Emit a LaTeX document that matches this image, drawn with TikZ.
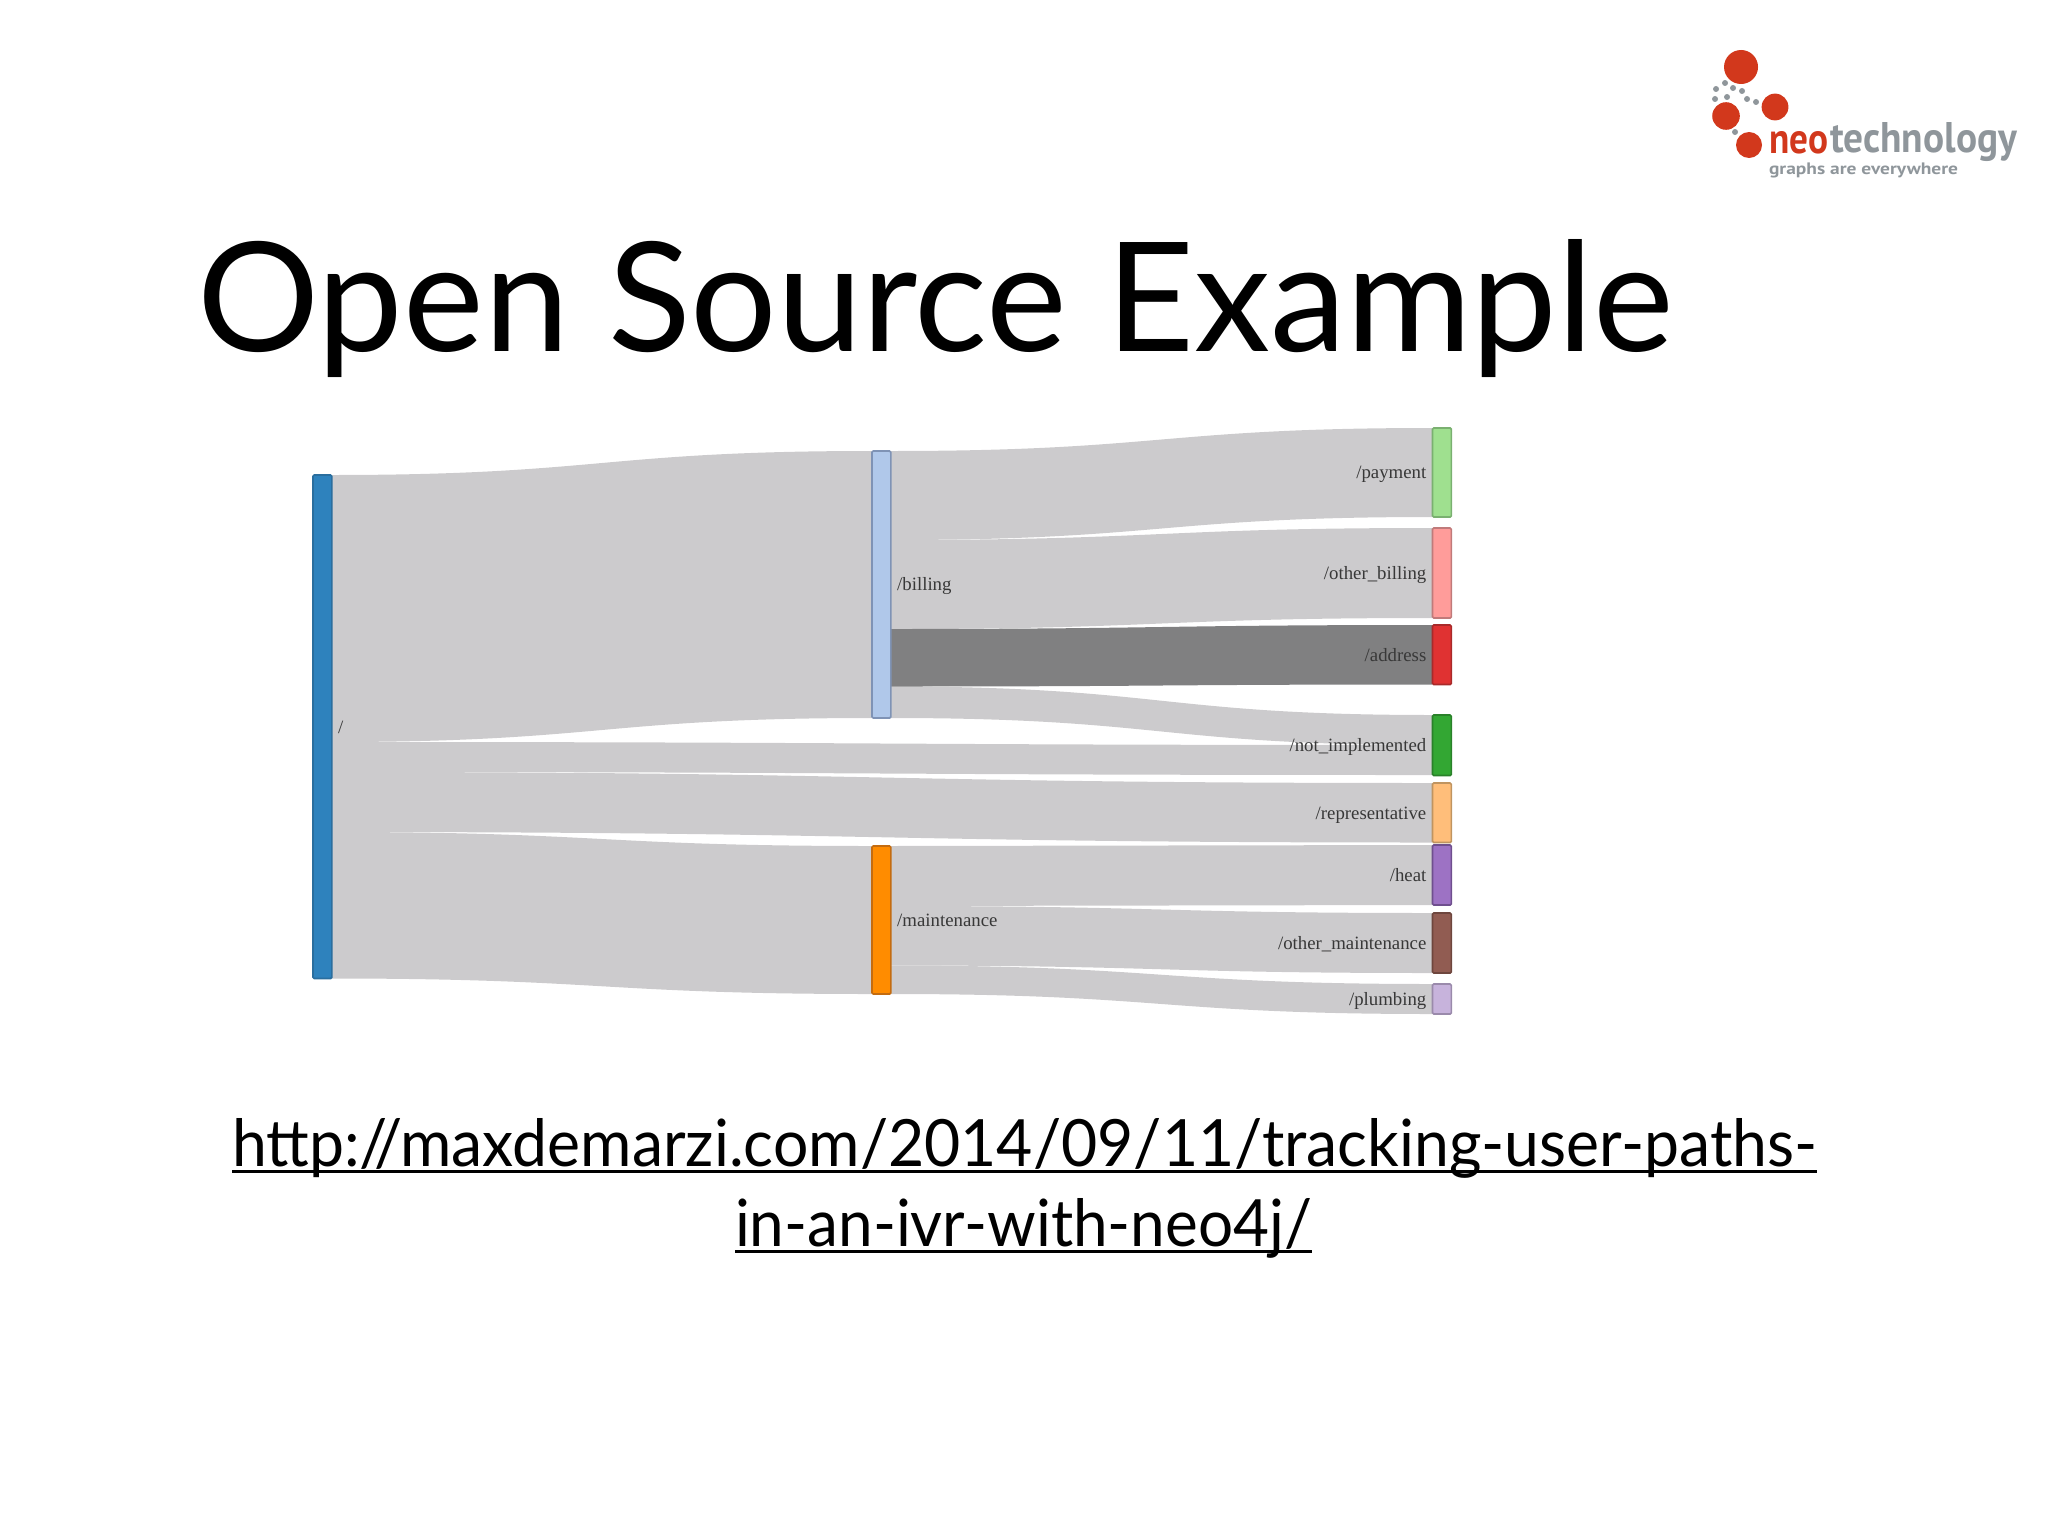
\documentclass[tikz,border=0pt]{standalone}
\usepackage{graphicx}
\usepackage{fontspec}
\setmainfont{Lato}
\newfontfamily\labelfont{Liberation Serif}
\newfontfamily\logofont{PT Sans}
\usetikzlibrary{calc}
\pgfdeclarelayer{links}
\pgfsetlayers{links,main}
\definecolor{linkgrey}{HTML}{CCCBCD}
\definecolor{linkdark}{HTML}{808081}
\definecolor{logored}{HTML}{D2381C}
\definecolor{logogrey}{HTML}{8F969B}
\definecolor{cRoot}{HTML}{2E82BD}\definecolor{sRoot}{HTML}{2A6E9E}
\definecolor{cBill}{HTML}{B0C8EA}\definecolor{sBill}{HTML}{7F93B5}
\definecolor{cMaint}{HTML}{FF8C00}\definecolor{sMaint}{HTML}{C46C10}
\definecolor{cPay}{HTML}{9FE08F}\definecolor{sPay}{HTML}{7AB070}
\definecolor{cOB}{HTML}{FF9C9A}\definecolor{sOB}{HTML}{C07A7A}
\definecolor{cAddr}{HTML}{E03232}\definecolor{sAddr}{HTML}{A92A2A}
\definecolor{cNot}{HTML}{33A733}\definecolor{sNot}{HTML}{2A812A}
\definecolor{cRep}{HTML}{FFBE7A}\definecolor{sRep}{HTML}{C09460}
\definecolor{cHeat}{HTML}{9D72C4}\definecolor{sHeat}{HTML}{6F4F8E}
\definecolor{cOM}{HTML}{915C52}\definecolor{sOM}{HTML}{6E463E}
\definecolor{cPl}{HTML}{C7B3DC}\definecolor{sPl}{HTML}{9A8AAB}
\tikzset{
  sknode/.style={rectangle,inner sep=0pt,outer sep=0pt,line width=0.8pt,rounded corners=0.6pt},
  lblleft/.style={inner sep=0pt,anchor=west,text=black!78,text height=6.3pt,text depth=0pt,font=\labelfont\fontsize{9.4}{11}\selectfont},
  lblright/.style={inner sep=0pt,anchor=east,text=black!78,text height=6.3pt,text depth=0pt,font=\labelfont\fontsize{9.4}{11}\selectfont},
  txt/.style={inner sep=0pt,outer sep=0pt,anchor=base west},
  undl/.style={line width=1.5pt,black},
  bigdot/.style={circle,fill=logored,inner sep=0pt,outer sep=0pt},
  smalldot/.style={circle,fill=logogrey,inner sep=0pt,outer sep=0pt,minimum size=3pt},
}
% name, x-left, y-top, y-bottom, fill, stroke
\newcommand{\sknd}[6]{\node[sknode,fill=#5,draw=#6,minimum width=9.4pt,minimum height={(#4-#3)*0.5pt}] (#1) at ({#2+9.4},{(#3+#4)/2}) {};}
% colour, from, y0top, y0bot, to, y1top, y1bot
\newcommand{\skflow}[7]{\begin{pgfonlayer}{links}\fill[#1] let \p1=(#2.east), \p2=(#5.west), \n1={0.5*(\x1+\x2)} in
  (\x1,-#3*0.5pt) .. controls (\n1,-#3*0.5pt) and (\n1,-#6*0.5pt) .. (\x2,-#6*0.5pt)
  -- (\x2,-#7*0.5pt) .. controls (\n1,-#7*0.5pt) and (\n1,-#4*0.5pt) .. (\x1,-#4*0.5pt) -- cycle;\end{pgfonlayer}}
\begin{document}
\begin{tikzpicture}[x=0.5pt,y=-0.5pt]
\useasboundingbox (0,0) rectangle (2048,1536);

% Title
\node[txt] (title) at (197,351) {\resizebox{738pt}{56pt}{Open Source Example}};

% URL
\node[txt] (urla) at (232,1166) {\resizebox{792.5pt}{24pt}{http://maxdemarzi.com/2014/09/11/tracking-user-paths-}};
\node[txt] (urlb) at (735,1246) {\resizebox{288.5pt}{24pt}{in-an-ivr-with-neo4j/}};
\draw[undl] ([yshift=-2.5pt]urla.base west) -- ([yshift=-2.5pt]urla.base east);
\draw[undl] ([yshift=-2.5pt]urlb.base west) -- ([yshift=-2.5pt]urlb.base east);

% Sankey nodes
\sknd{root}{313}{475}{978.5}{cRoot}{sRoot}
\sknd{billing}{872}{451}{718}{cBill}{sBill}
\sknd{maint}{872}{846}{994}{cMaint}{sMaint}
\sknd{pay}{1432.5}{428}{517}{cPay}{sPay}
\sknd{otherb}{1432.5}{528}{618}{cOB}{sOB}
\sknd{addr}{1432.5}{625}{684.5}{cAddr}{sAddr}
\sknd{notimp}{1432.5}{715}{775.5}{cNot}{sNot}
\sknd{rep}{1432.5}{783}{842.5}{cRep}{sRep}
\sknd{heat}{1432.5}{845}{905}{cHeat}{sHeat}
\sknd{otherm}{1432.5}{913}{973}{cOM}{sOM}
\sknd{plumb}{1432.5}{984}{1014}{cPl}{sPl}

% Sankey links
\skflow{linkgrey}{root}{475}{742}{billing}{451}{718}
\skflow{linkgrey}{root}{742}{772}{notimp}{745}{775}
\skflow{linkgrey}{root}{772}{832}{rep}{783}{842.5}
\skflow{linkgrey}{root}{832}{978.5}{maint}{846}{994}
\skflow{linkgrey}{billing}{451}{540}{pay}{428}{517}
\skflow{linkgrey}{billing}{540}{629}{otherb}{528}{618}
\skflow{linkgrey}{billing}{686.5}{718}{notimp}{715}{745}
\skflow{linkdark}{billing}{629}{686.5}{addr}{625}{684.5}
\skflow{linkgrey}{maint}{846}{906}{heat}{845}{905}
\skflow{linkgrey}{maint}{906}{965.5}{otherm}{913}{973}
\skflow{linkgrey}{maint}{965.5}{994}{plumb}{984}{1014}

% Labels
\node[lblleft] (lroot) at ([xshift=3pt]root.east) {/};
\node[lblleft] (lbill) at ([xshift=3pt]billing.east) {/billing};
\node[lblleft] (lmaint) at ([xshift=3pt]maint.east) {/maintenance};
\node[lblright] (lpay) at ([xshift=-2.9pt]pay.west) {/payment};
\node[lblright] (lob) at ([xshift=-2.9pt]otherb.west) {/other\_billing};
\node[lblright] (laddr) at ([xshift=-2.9pt]addr.west) {/address};
\node[lblright] (lnot) at ([xshift=-2.9pt]notimp.west) {/not\_implemented};
\node[lblright] (lrep) at ([xshift=-2.9pt]rep.west) {/representative};
\node[lblright] (lheat) at ([xshift=-2.9pt]heat.west) {/heat};
\node[lblright] (lom) at ([xshift=-2.9pt]otherm.west) {/other\_maintenance};
\node[lblright] (lpl) at ([xshift=-2.9pt]plumb.west) {/plumbing};

% Logo
\node[bigdot,minimum size=17pt] (da) at (1741,67) {};
\node[bigdot,minimum size=13.4pt] (db) at (1775,107) {};
\node[bigdot,minimum size=13.8pt] (dc) at (1726,116) {};
\node[bigdot,minimum size=13pt] (dd) at (1749,145) {};
\node[smalldot] (s1) at (1725,83) {};
\node[smalldot] (s2) at (1716,89) {};
\node[smalldot] (s3) at (1733,88) {};
\node[smalldot] (s4) at (1742,91) {};
\node[smalldot] (s5) at (1715,99) {};
\node[smalldot] (s6) at (1727,97) {};
\node[smalldot] (s7) at (1747,99) {};
\node[smalldot] (s8) at (1756,102) {};
\node[smalldot] (s9) at (1735,132) {};
\node[txt,text=logored] (lneo) at (1769,153) {\resizebox{29.5pt}{11pt}{\logofont\bfseries neo}};
\node[txt,text=logogrey] (ltech) at (1830,153) {\resizebox{93.5pt}{15pt}{\logofont\bfseries technology}};
\node[txt,text=logogrey] (lgraph) at (1769,174) {\resizebox{94.5pt}{5.8pt}{\logofont\bfseries graphs are everywhere}};
\end{tikzpicture}
\end{document}
